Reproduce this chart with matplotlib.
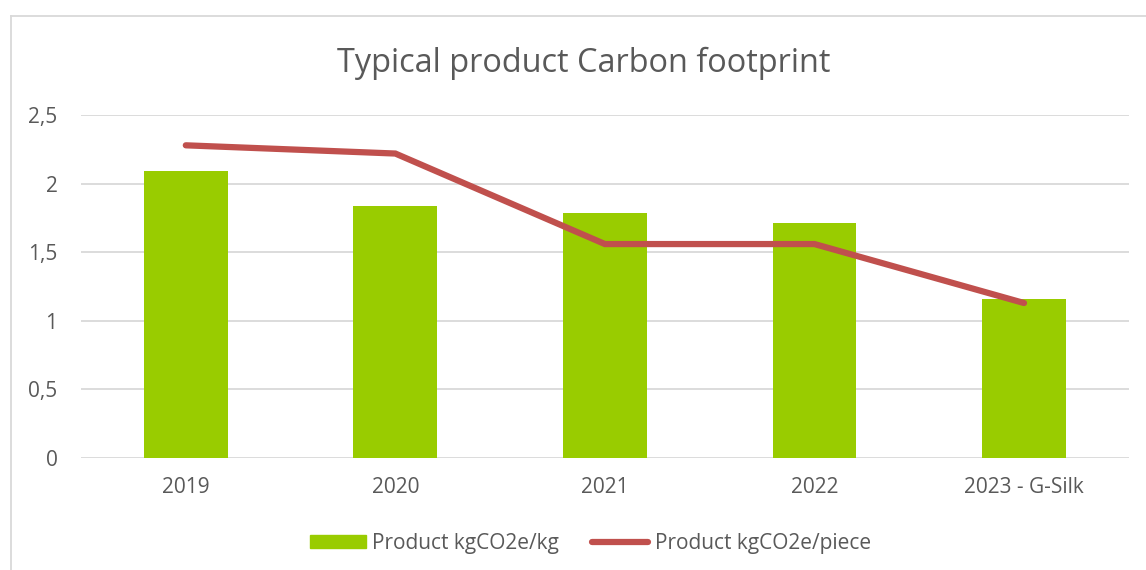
import matplotlib.pyplot as plt
from matplotlib.lines import Line2D
from matplotlib.patches import Patch

plt.rcParams['font.family'] = ['Open Sans', 'DejaVu Sans']

years = ['2019', '2020', '2021', '2022', '2023 - G-Silk']
per_kg = [2.09, 1.84, 1.79, 1.71, 1.16]
per_piece = [2.28, 2.22, 1.56, 1.56, 1.13]
yticks = [0, 0.5, 1, 1.5, 2, 2.5]
ytick_labels = ['0', '0,5', '1', '1,5', '2', '2,5']

green = '#99CC00'
red = '#C0504D'
grey = '#595959'

fig = plt.figure(figsize=(11.46, 5.70), dpi=100)
ax = fig.add_axes([0.0707, 0.1965, 0.9143, 0.6015])

x = range(len(years))
ax.bar(x, per_kg, width=0.4, color=green, zorder=2)
ax.plot(x, per_piece, color=red, linewidth=4.5, solid_capstyle='round',
        solid_joinstyle='miter', zorder=3)

ax.set_xlim(-0.5, len(years) - 0.5)
ax.set_ylim(0, 2.5)
ax.set_yticks(yticks)
ax.set_yticklabels(ytick_labels)
ax.set_xticks(list(x))
ax.set_xticklabels(years)
ax.tick_params(axis='y', length=0, pad=17, labelsize=15, labelcolor=grey)
ax.tick_params(axis='x', length=0, pad=14, labelsize=15, labelcolor=grey)
ax.grid(axis='y', color='#D9D9D9', linewidth=1.3, zorder=0)
for s in ax.spines.values():
    s.set_visible(False)

fig.text(0.5096, 0.889, 'Typical product Carbon footprint', ha='center',
         va='center', fontsize=23.4, color=grey)

handles = [Patch(color=green, label='Product kgCO2e/kg'),
           Line2D([], [], color=red, linewidth=4.5, solid_capstyle='round',
                  label='Product kgCO2e/piece')]
fig.legend(handles=handles, loc='center', bbox_to_anchor=(0.515, 0.047), ncol=2,
           frameon=False, fontsize=15, labelcolor=grey, handlelength=2.7,
           handleheight=0.6, handletextpad=0.3, columnspacing=1.6)

# chart frame (cut off at right and bottom in the original)
fig.add_artist(Line2D([0.0096, 0.0096], [0, 0.972], color='#D9D9D9', linewidth=1.3,
                      transform=fig.transFigure))
fig.add_artist(Line2D([0.0096, 1], [0.972, 0.972], color='#D9D9D9', linewidth=1.3,
                      transform=fig.transFigure))

fig.savefig('out.png', dpi=100)
